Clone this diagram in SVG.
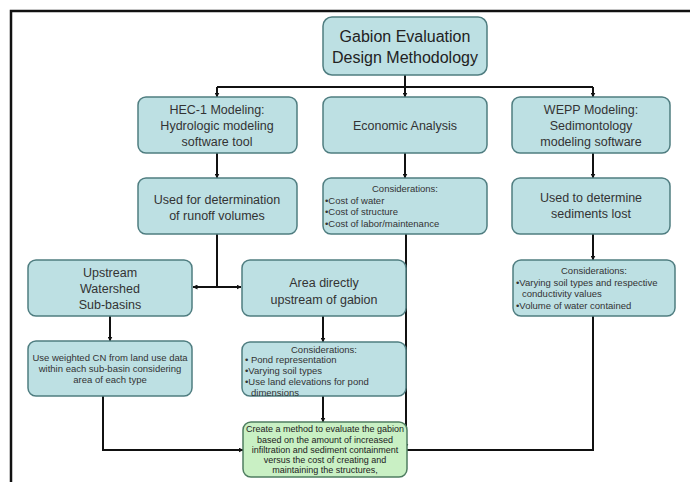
<svg xmlns="http://www.w3.org/2000/svg" width="690" height="482" viewBox="0 0 690 482">
<defs>
<style>
.box{fill:#bde0e3;stroke:#4f7d80;stroke-width:1.5}
.green{fill:#c9f0c4;stroke:#4f7d60;stroke-width:1.5}
text{font-family:"Liberation Sans",Arial,sans-serif;fill:#333;}
.t13{font-size:12.5px;text-anchor:middle}
.t15{font-size:16px;text-anchor:middle;fill:#222}
.t10{font-size:9.5px}
.c{text-anchor:middle}
.t9{font-size:9px;text-anchor:middle;fill:#222}
.ln{fill:none;stroke:#111;stroke-width:2}
</style>
<marker id="ah" viewBox="0 0 10 10" refX="9" refY="5" markerWidth="5" markerHeight="5" orient="auto" markerUnits="userSpaceOnUse">
<path d="M0,0 L10,5 L0,10 z" fill="#111"/>
</marker>
</defs>
<rect x="0" y="0" width="690" height="482" fill="#fff"/>
<path d="M11,482 L11,11 L690,11" fill="none" stroke="#111" stroke-width="2.5"/>

<g id="connectors">
<path class="ln" d="M405,75 L405,87"/>
<path class="ln" d="M217,87 L593,87"/>
<path class="ln" d="M217,87 L217,97" marker-end="url(#ah)"/>
<path class="ln" d="M405,87 L405,97" marker-end="url(#ah)"/>
<path class="ln" d="M593,87 L593,97" marker-end="url(#ah)"/>
<path class="ln" d="M217,153 L217,178" marker-end="url(#ah)"/>
<path class="ln" d="M405,153 L405,178" marker-end="url(#ah)"/>
<path class="ln" d="M593,153 L593,178" marker-end="url(#ah)"/>
<path class="ln" d="M217,234 L217,287"/>
<path class="ln" d="M217,287 L193,287" marker-end="url(#ah)"/>
<path class="ln" d="M217,287 L241,287" marker-end="url(#ah)"/>
<path class="ln" d="M593,234 L593,260" marker-end="url(#ah)"/>
<path class="ln" d="M110,316 L110,341" marker-end="url(#ah)"/>
<path class="ln" d="M323,316 L323,342" marker-end="url(#ah)"/>
<path class="ln" d="M323,396 L323,422" marker-end="url(#ah)"/>
<path class="ln" d="M103,396 L103,450 L243,450" marker-end="url(#ah)"/>
<path class="ln" d="M406,234 L406,448" marker-end="url(#ah)"/>
<path class="ln" d="M593,316 L593,450 L407,450"/>
</g>

<g id="title">
<rect class="box" x="323" y="17" width="164" height="58" rx="9"/>
<text class="t15" x="405" y="42">Gabion Evaluation</text>
<text class="t15" x="405" y="63">Design Methodology</text>
</g>

<g id="hec">
<rect class="box" x="138" y="97" width="159" height="56" rx="8"/>
<text class="t13" x="217" y="114" font-size="11.5">HEC-1 Modeling:</text>
<text class="t13" x="217" y="130">Hydrologic modeling</text>
<text class="t13" x="217" y="146">software tool</text>
</g>

<g id="econ">
<rect class="box" x="323" y="97" width="164" height="56" rx="8"/>
<text class="t13" x="405" y="130" font-size="11.5">Economic Analysis</text>
</g>

<g id="wepp">
<rect class="box" x="512" y="97" width="158" height="56" rx="8"/>
<text class="t13" x="591" y="114" font-size="11.5">WEPP Modeling:</text>
<text class="t13" x="591" y="130">Sedimontology</text>
<text class="t13" x="591" y="146">modeling software</text>
</g>

<g id="hecused">
<rect class="box" x="138" y="178" width="159" height="56" rx="8"/>
<text class="t13" x="217" y="204">Used for determination</text>
<text class="t13" x="217" y="220">of runoff volumes</text>
</g>

<g id="econcons">
<rect class="box" x="323" y="178" width="164" height="56" rx="8"/>
<text class="t10 c" x="405" y="192">Considerations:</text>
<text class="t10" x="325" y="204">•Cost of water</text>
<text class="t10" x="325" y="215">•Cost of structure</text>
<text class="t10" x="325" y="227">•Cost of labor/maintenance</text>
</g>

<g id="weppused">
<rect class="box" x="512" y="178" width="158" height="56" rx="8"/>
<text class="t13" x="591" y="202">Used to determine</text>
<text class="t13" x="591" y="218">sediments lost</text>
</g>

<g id="upstream">
<rect class="box" x="28" y="260" width="164" height="56" rx="8"/>
<text class="t13" x="110" y="277">Upstream</text>
<text class="t13" x="110" y="293">Watershed</text>
<text class="t13" x="110" y="309">Sub-basins</text>
</g>

<g id="area">
<rect class="box" x="242" y="260" width="164" height="56" rx="8"/>
<text class="t13" x="324" y="287">Area directly</text>
<text class="t13" x="324" y="304">upstream of gabion</text>
</g>

<g id="weppcons">
<rect class="box" x="513" y="260" width="162" height="56" rx="8"/>
<text class="t10 c" x="594" y="274">Considerations:</text>
<text class="t10" x="516" y="286">•Varying soil types and respective</text>
<text class="t10" x="522" y="297">conductivity values</text>
<text class="t10" x="516" y="309">•Volume of water contained</text>
</g>

<g id="cn">
<rect class="box" x="28" y="341" width="164" height="55" rx="8"/>
<text class="t10 c" x="110" y="361" font-size="10">Use weighted CN from land use data</text>
<text class="t10 c" x="110" y="372" font-size="10">within each sub-basin considering</text>
<text class="t10 c" x="110" y="383" font-size="10">area of each type</text>
</g>

<g id="areacons">
<rect class="box" x="242" y="342" width="164" height="54" rx="8"/>
<text class="t10 c" x="324" y="353">Considerations:</text>
<text class="t10" x="245" y="363">• Pond representation</text>
<text class="t10" x="245" y="374">•Varying soil types</text>
<text class="t10" x="245" y="385">•Use land elevations for pond</text>
<text class="t10" x="251" y="396">dimensions</text>
</g>

<g id="result">
<rect class="green" x="243" y="422" width="164" height="55" rx="8"/>
<text class="t9" x="325" y="432">Create a method to evaluate the gabion</text>
<text class="t9" x="325" y="443">based on the amount of increased</text>
<text class="t9" x="325" y="453">infiltration and sediment containment</text>
<text class="t9" x="325" y="463">versus the cost of creating and</text>
<text class="t9" x="325" y="473">maintaining the structures,</text>
</g>
</svg>
